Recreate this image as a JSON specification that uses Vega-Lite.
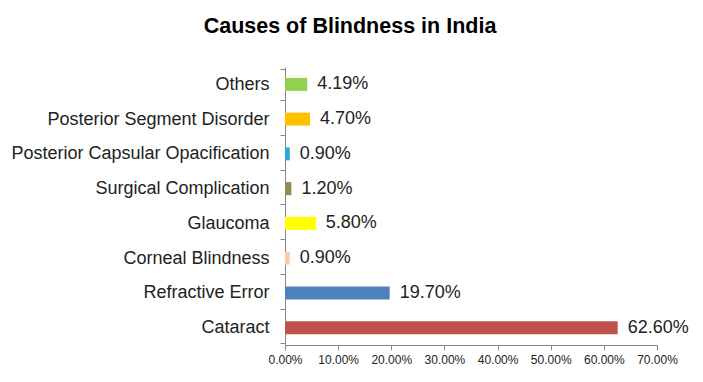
{
  "$schema": "https://vega.github.io/schema/vega-lite/v6.json",
  "autosize": {"type": "none"},
  "width": 372,
  "height": 278,
  "padding": {"left": 285, "top": 67, "right": 46, "bottom": 37},
  "background": "white",
  "title": {
    "text": "Causes of Blindness in India",
    "font": "Liberation Sans",
    "fontSize": 21.5,
    "fontWeight": "bold",
    "color": "#000000",
    "anchor": "middle",
    "dx": -121,
    "offset": 21
  },
  "data": {
    "values": [
      {"cause": "Others", "value": 0.0419, "color": "#92D050"},
      {"cause": "Posterior Segment Disorder", "value": 0.047, "color": "#FFC000"},
      {"cause": "Posterior Capsular Opacification", "value": 0.009, "color": "#2DA6D8"},
      {"cause": "Surgical Complication\u00a0", "value": 0.012, "color": "#948A54"},
      {"cause": "Glaucoma", "value": 0.058, "color": "#FFFF00"},
      {"cause": "Corneal Blindness", "value": 0.009, "color": "#F8CBAD"},
      {"cause": "Refractive Error", "value": 0.197, "color": "#4F81BD"},
      {"cause": "Cataract\u00a0", "value": 0.626, "color": "#C0504D"}
    ]
  },
  "encoding": {
    "y": {
      "field": "cause",
      "type": "nominal",
      "sort": null,
      "title": null,
      "axis": {
        "tickBand": "extent",
        "domainColor": "#868686",
        "tickColor": "#868686",
        "tickSize": 5,
        "labelPadding": 11,
        "labelFont": "Liberation Sans",
        "labelFontSize": 18,
        "labelColor": "#222222",
        "labelLimit": 400
      }
    },
    "x": {
      "field": "value",
      "type": "quantitative",
      "title": null,
      "scale": {"domain": [0, 0.7]},
      "axis": {
        "values": [0, 0.1, 0.2, 0.3, 0.4, 0.5, 0.6, 0.7],
        "format": ".2%",
        "grid": false,
        "labelOverlap": false,
        "labelFlush": false,
        "domainColor": "#868686",
        "tickColor": "#868686",
        "tickSize": 5,
        "labelPadding": 4,
        "labelFont": "Liberation Sans",
        "labelFontSize": 12,
        "labelColor": "#222222"
      }
    }
  },
  "layer": [
    {
      "mark": {"type": "bar", "height": 13},
      "encoding": {
        "color": {"field": "color", "type": "nominal", "scale": null, "legend": null}
      }
    },
    {
      "mark": {"type": "text", "align": "left", "dx": 10, "font": "Liberation Sans", "fontSize": 18, "color": "#222222"},
      "encoding": {
        "text": {"field": "value", "type": "quantitative", "format": ".2%"}
      }
    }
  ],
  "config": {"view": {"stroke": null}}
}
